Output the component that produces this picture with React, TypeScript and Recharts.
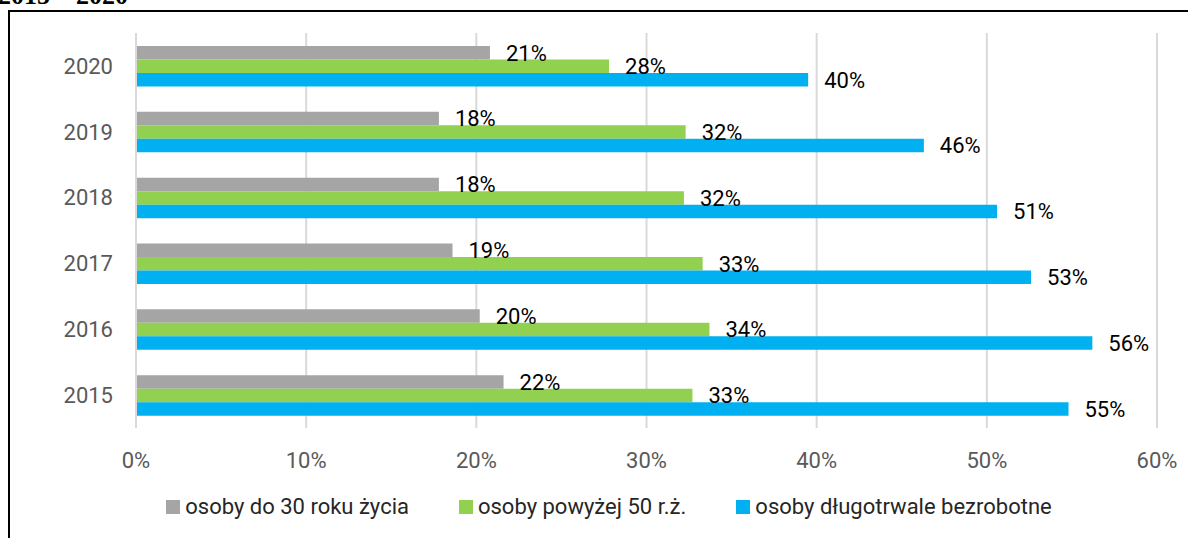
import React from 'react';
import { BarChart, Bar, XAxis, YAxis, CartesianGrid, Legend, LabelList } from 'recharts';

const years = ['2020', '2019', '2018', '2017', '2016', '2015'];
const under30 = [20.8, 17.8, 17.8, 18.6, 20.2, 21.6];
const over50 = [27.8, 32.3, 32.2, 33.3, 33.7, 32.7];
const longTerm = [39.5, 46.3, 50.6, 52.6, 56.2, 54.8];
const xTicks = [0, 10, 20, 30, 40, 50, 60];

const seriesNames = ['osoby do 30 roku życia', 'osoby powyżej 50 r.ż.', 'osoby długotrwale bezrobotne'];
const seriesColors = ['#A5A5A5', '#92D050', '#00B0F0'];

const data = years.map((year, i) => ({
  year,
  under30: under30[i],
  over50: over50[i],
  longTerm: longTerm[i],
}));

const FONT = 'Roboto, "Open Sans", sans-serif';

const fmtPct = (v: any) => `${Math.round(Number(v))}%`;

const LegendBox = () => (
  <div style={{ display: 'flex', justifyContent: 'center', gap: 50, fontFamily: FONT, fontSize: 22, color: '#262626' }}>
    {seriesNames.map((name, i) => (
      <div key={name} style={{ display: 'flex', alignItems: 'center', whiteSpace: 'nowrap' }}>
        <span style={{ display: 'inline-block', width: 14, height: 14, background: seriesColors[i], marginRight: 5 }} />
        <span>{name}</span>
      </div>
    ))}
  </div>
);

export default function App() {
  return (
    <div style={{ position: 'absolute', left: 0, top: 0, width: 1188, height: 538, overflow: 'hidden', background: '#fff' }}>
      {/* title line from the document, cut off by the page edge */}
      <div
        style={{
          position: 'absolute',
          left: -2,
          top: -17,
          fontFamily: '"Liberation Serif", serif',
          fontWeight: 'bold',
          fontSize: 26,
          lineHeight: '26px',
          whiteSpace: 'nowrap',
          color: '#000',
        }}
      >
        2015 – 2020
      </div>
      <div
        style={{
          position: 'absolute',
          left: 8,
          top: 10,
          width: 1300,
          height: 700,
          borderLeft: '2px solid #000',
          borderTop: '2px solid #000',
        }}
      />
      <div style={{ position: 'absolute', left: 0, top: 0 }}>
        <BarChart
          width={1188}
          height={538}
          data={data}
          layout="vertical"
          margin={{ top: 33, right: 31, left: 76, bottom: 0 }}
          barSize={13.5}
          barGap={0}
        >
          <CartesianGrid horizontal={false} stroke="#D9D9D9" strokeWidth={2} />
          <XAxis
            type="number"
            domain={[0, 60]}
            ticks={xTicks}
            tickFormatter={(v) => `${v}%`}
            axisLine={false}
            tickLine={false}
            tickSize={0}
            tickMargin={24}
            height={110}
            interval={0}
            tick={{ fill: '#595959', fontSize: 22, fontFamily: FONT }}
          />
          <YAxis
            type="category"
            dataKey="year"
            width={60}
            axisLine={{ stroke: '#D9D9D9', strokeWidth: 2 }}
            tickLine={false}
            tickSize={0}
            tickMargin={23}
            tick={{ fill: '#595959', fontSize: 22, fontFamily: FONT }}
          />
          <Legend
            layout="horizontal"
            verticalAlign="middle"
            align="center"
            wrapperStyle={{ top: 494, left: 100, width: 1018 }}
            content={() => <LegendBox />}
          />
          <Bar dataKey="under30" name={seriesNames[0]} fill={seriesColors[0]} isAnimationActive={false}>
            <LabelList dataKey="under30" position="right" offset={16} formatter={fmtPct} fill="#000" fontSize={22} fontFamily={FONT} />
          </Bar>
          <Bar dataKey="over50" name={seriesNames[1]} fill={seriesColors[1]} isAnimationActive={false}>
            <LabelList dataKey="over50" position="right" offset={16} formatter={fmtPct} fill="#000" fontSize={22} fontFamily={FONT} />
          </Bar>
          <Bar dataKey="longTerm" name={seriesNames[2]} fill={seriesColors[2]} isAnimationActive={false}>
            <LabelList dataKey="longTerm" position="right" offset={16} formatter={fmtPct} fill="#000" fontSize={22} fontFamily={FONT} />
          </Bar>
        </BarChart>
      </div>
    </div>
  );
}
